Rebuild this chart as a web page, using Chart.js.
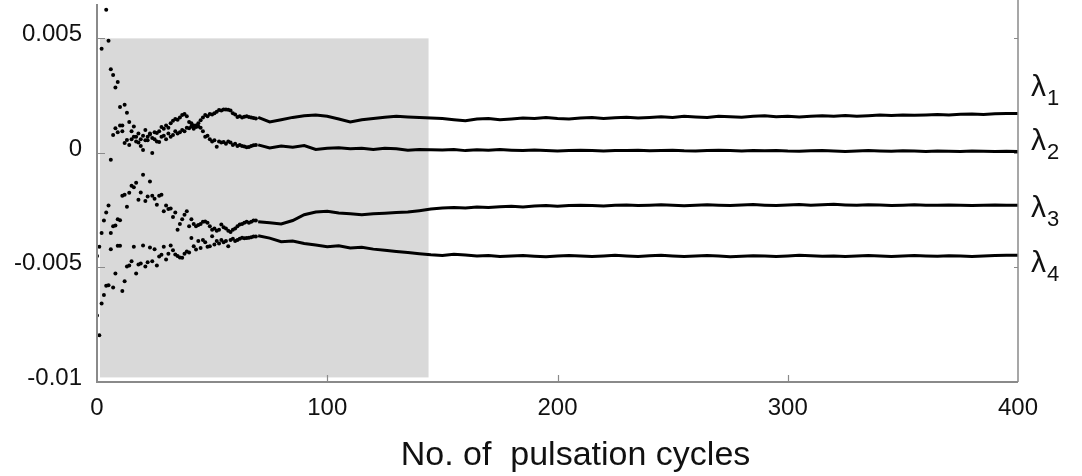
<!DOCTYPE html>
<html><head><meta charset="utf-8">
<script src="https://cdn.jsdelivr.net/npm/chart.js@4.4.1/dist/chart.umd.min.js"></script>
<style>html,body{margin:0;padding:0;background:#fff;}#wrap{width:1082px;height:476px;position:relative;}</style>
</head><body><div id="wrap"><canvas id="c" width="1082" height="476"></canvas></div>
<script>
// ---- data ----
const earlyCycles = [0,1,2,3,4,5,6,7,8,9,10,11,12,13,14,15,16,17,18,19,20,21,22,23,24,25,26,27,28,29,30,31,32,33,34,35,36,37,38,39,40,41,42,43,44,45,46,47,48,49,50,51,52,53,54,55,56,57,58,59,60,61,62,63,64,65,66,67,68,69];
const lambda1Early = [null,null,0.00455,null,0.00625,0.0049,0.00365,0.0034,0.00285,0.0031,
 0.002,0.0012,0.0021,0.00175,0.00135,0.00095,0.00115,0.0007,0.00085,0.0006,
 0.00075,0.001,0.00055,0.0008,0.00065,0.0009,0.00087,0.00048,0.0007,0.00075,
 0.0006,0.00085,0.0007,0.00078,0.00095,0.00085,0.0009,0.001,0.00095,0.0011,
 0.00108,0.00115,0.00105,0.0012,0.0013,0.00143,0.00155,0.00165,0.0016,0.0017,
 0.00168,0.00173,0.0018,0.00187,0.00185,0.0019,0.0019,0.00188,0.00185,0.00173,
 0.00168,0.00157,0.0016,0.00155,0.00158,0.0016,0.00157,0.00155,0.00152,0.0015];
const lambda2Early = [null,null,null,null,null,null,-0.0003,0.00078,0.00108,0.0009,
 0.0012,0.00095,0.00043,0.00056,0.00035,0.0006,0.0007,0.0005,0.00045,0.0003,
 0.00013,0.00055,0.0007,0.00085,0.0,0.0006,0.0005,0.00095,0.00113,0.00105,
 0.0012,0.0011,0.0013,0.0014,0.00148,0.00145,0.00155,0.00165,0.0017,0.0016,
 0.00135,0.0013,0.0012,0.00113,0.00115,0.0011,0.00095,0.0007,0.00075,0.0006,
 0.0005,0.00055,0.00027,0.0005,0.00045,0.00048,0.0004,0.0005,0.00045,0.00035,
 0.0004,0.0003,0.00035,0.0003,0.00028,0.00025,0.00026,0.0003,0.00033,0.00035];
const lambda3Early = [-0.0045,-0.0041,-0.0035,-0.00295,-0.0026,-0.0023,-0.0035,-0.0032,-0.00317,-0.0029,
 -0.00294,-0.00187,-0.00183,-0.00235,-0.00174,-0.00143,-0.0015,-0.0013,-0.00204,-0.00173,
 -0.00095,-0.0021,-0.0019,-0.00125,-0.00187,-0.002,-0.00226,-0.00187,-0.00183,-0.00255,
 -0.0023,-0.00245,-0.00243,-0.0028,-0.0026,-0.00335,-0.0031,-0.0029,-0.0027,-0.00255,
 -0.0032,-0.0029,-0.0031,-0.0032,-0.00315,-0.0031,-0.003,-0.00299,-0.00305,-0.0032,
 -0.00335,-0.0033,-0.0034,-0.00335,-0.00313,-0.00325,-0.0033,-0.0034,-0.00345,-0.00335,
 -0.0033,-0.0032,-0.00313,-0.0031,-0.00305,-0.003,-0.00305,-0.003,-0.00295,-0.00295];
const lambda4Early = [-0.0071,-0.00796,-0.00657,-0.0062,-0.0058,-0.00578,-0.0042,-0.00587,-0.00526,-0.00405,
 -0.00405,-0.00603,-0.0056,-0.00496,-0.00491,-0.00473,-0.0041,-0.00526,-0.00487,-0.00483,
 -0.00404,-0.00496,-0.00477,-0.00413,-0.00473,-0.0042,-0.00491,-0.00452,-0.00445,-0.0041,
 -0.00465,-0.0044,-0.00404,-0.00425,-0.00443,-0.0045,-0.00457,-0.00458,-0.0044,-0.0043,
 -0.00435,-0.00371,-0.00407,-0.00422,-0.00385,-0.00415,-0.0038,-0.0039,-0.0041,-0.00407,
 -0.00364,-0.004,-0.00385,-0.00395,-0.0038,-0.0039,-0.00385,-0.00407,-0.0038,-0.00375,
 -0.00385,-0.0038,-0.00375,-0.0037,-0.00372,-0.00371,-0.0037,-0.00368,-0.00365,-0.00365];

const lateCycles = [70,75,80,85,90,95,100,105,110,115,120,125,130,135,140,145,150,155,160,165,170,175,180,185,190,195,200,205,210,215,220,225,230,235,240,245,250,255,260,265,270,275,280,285,290,295,300,305,310,315,320,325,330,335,340,345,350,355,360,365,370,375,380,385,390,395,400];
const lambda1Late = [0.00155,0.00135,0.00145,0.00155,0.00162,0.00165,0.0016,0.00148,0.00135,0.00145,
 0.0015,0.00156,0.0016,0.00157,0.00155,0.00152,0.0015,0.00145,0.0014,0.00148,
 0.0015,0.00145,0.00148,0.00152,0.0015,0.00155,0.0015,0.00148,0.00152,0.00155,
 0.0015,0.00153,0.00156,0.00152,0.00155,0.00158,0.00155,0.0016,0.00157,0.00155,
 0.0016,0.00158,0.00156,0.0016,0.00162,0.00158,0.0016,0.00157,0.0016,0.00162,
 0.0016,0.00163,0.0016,0.00162,0.00165,0.00163,0.00166,0.00164,0.00166,0.00168,
 0.00166,0.00169,0.0017,0.00168,0.00171,0.00172,0.00172];
const lambda2Late = [0.00035,0.00022,0.0003,0.00025,0.00032,0.00015,0.0002,0.00022,0.00018,0.0002,
 0.00015,0.0002,0.00018,0.00012,0.00015,0.00014,0.00013,0.00015,0.0001,0.00014,
 0.00012,0.00015,0.00012,0.0001,0.00013,0.00011,0.00008,0.0001,0.00012,0.0001,
 0.00008,0.00011,0.0001,0.00012,0.00009,0.0001,0.00012,0.00009,0.00008,0.0001,
 0.00012,0.0001,0.00008,0.0001,0.00009,0.00011,0.00008,0.00007,0.00009,0.0001,
 0.00008,0.00006,0.00008,0.0001,0.00008,0.00007,0.00009,0.00008,0.00006,0.00008,
 0.00007,0.00006,0.00008,0.00007,0.00006,0.00007,0.00006];
const lambda3Late = [-0.003,-0.00305,-0.0031,-0.00295,-0.0027,-0.00258,-0.00255,-0.00262,-0.00266,-0.0027,
 -0.00266,-0.00263,-0.0026,-0.00258,-0.00252,-0.00245,-0.0024,-0.00238,-0.0024,-0.00236,
 -0.00238,-0.00235,-0.00233,-0.00236,-0.00232,-0.0023,-0.00233,-0.0023,-0.00228,-0.0023,
 -0.00232,-0.00229,-0.00227,-0.0023,-0.00228,-0.00226,-0.00229,-0.00231,-0.00228,-0.00226,
 -0.00228,-0.0023,-0.00227,-0.00225,-0.00228,-0.0023,-0.00227,-0.00225,-0.00228,-0.00226,
 -0.00224,-0.00227,-0.00229,-0.00226,-0.00227,-0.0023,-0.00228,-0.00226,-0.00228,-0.00229,
 -0.00227,-0.00228,-0.0023,-0.00228,-0.00227,-0.00229,-0.00228];
const lambda4Late = [-0.00362,-0.00372,-0.00388,-0.00385,-0.00395,-0.00402,-0.0041,-0.00405,-0.00415,-0.00412,
 -0.0042,-0.00425,-0.0043,-0.00435,-0.0044,-0.00445,-0.00448,-0.00442,-0.00446,-0.0045,
 -0.00448,-0.00452,-0.0045,-0.00448,-0.00451,-0.00453,-0.0045,-0.00448,-0.0045,-0.00452,
 -0.0045,-0.00447,-0.0045,-0.00452,-0.00449,-0.00447,-0.0045,-0.00452,-0.0045,-0.00448,
 -0.0045,-0.00453,-0.00451,-0.00449,-0.0045,-0.00452,-0.0045,-0.00447,-0.00449,-0.00451,
 -0.0045,-0.00452,-0.0045,-0.00448,-0.0045,-0.00452,-0.0045,-0.00448,-0.0045,-0.00451,
 -0.00449,-0.0045,-0.00452,-0.0045,-0.00448,-0.00447,-0.00447];

const xTickValues = [0,100,200,300,400];
const xTickLabels = ['0','100','200','300','400'];
const yTickValues = [-0.01,-0.005,0,0.005];
const yTickLabels = ['-0.01','-0.005','0','0.005'];
const seriesSymbols = ['λ','λ','λ','λ'];
const seriesSubscripts = ['1','2','3','4'];
const seriesLabelAt = [0.0025,0.00013,-0.0028,-0.0052];
const shadeCycles = [1.3,144];
const shadeValues = [-0.0098,0.005];
const xTitle = 'No. of  pulsation cycles';

// ---- build datasets ----
const FONT = '"Liberation Sans", Arial, Helvetica, sans-serif';
function pts(xs, ys){ const out=[]; xs.forEach((c,i)=>{ if(ys[i]!==null) out.push({x:c,y:ys[i]}); }); return out; }
const early = [lambda1Early,lambda2Early,lambda3Early,lambda4Early];
const late = [lambda1Late,lambda2Late,lambda3Late,lambda4Late];
const datasets = [];
early.forEach((s,i)=>datasets.push({label:'early'+i,data:pts(earlyCycles,s),showLine:false,pointRadius:2,pointBorderWidth:0,backgroundColor:'#000',borderColor:'#000'}));
late.forEach((s,i)=>datasets.push({label:'late'+i,data:pts(lateCycles,s),showLine:true,pointRadius:0,borderWidth:3,borderColor:'#000',tension:0}));

const decor = {
  id:'decor',
  beforeDatasetsDraw(chart){
    const {ctx, scales:{x,y}} = chart;
    ctx.save();
    ctx.fillStyle = '#d9d9d9';
    const x0 = x.getPixelForValue(shadeCycles[0]), x1 = x.getPixelForValue(shadeCycles[1]);
    const y0 = y.getPixelForValue(shadeValues[1]), y1 = y.getPixelForValue(shadeValues[0]);
    ctx.fillRect(x0, y0, x1-x0, y1-y0);
    ctx.restore();
  },
  afterDatasetsDraw(chart){
    const {ctx, chartArea:a, scales:{x,y}} = chart;
    ctx.save();
    ctx.strokeStyle = '#8a8a8a';
    ctx.lineWidth = 2;
    ctx.beginPath(); ctx.moveTo(a.left, a.top); ctx.lineTo(a.left, a.bottom); ctx.lineTo(a.right, a.bottom); ctx.stroke();
    ctx.lineWidth = 1.5;
    ctx.beginPath(); ctx.moveTo(a.right, 0); ctx.lineTo(a.right, a.bottom); ctx.stroke();
    ctx.lineWidth = 1.2;
    ctx.beginPath();
    y.ticks.forEach(t=>{
      const k = Math.round(t.value*1000);
      if (Math.abs(t.value*1000-k) > 1e-6) return;
      const py = Math.round(y.getPixelForValue(t.value)) + 0.5;
      const len = (k % 5 === 0) ? 8 : 4;
      ctx.moveTo(a.left, py); ctx.lineTo(a.left+len, py);
      ctx.moveTo(a.right, py); ctx.lineTo(a.right-4, py);
    });
    x.ticks.forEach(t=>{
      if (t.value <= x.min || t.value >= x.max) return;
      const px = Math.round(x.getPixelForValue(t.value)) + 0.5;
      ctx.moveTo(px, a.bottom); ctx.lineTo(px, a.bottom-7);
    });
    ctx.stroke();
    ctx.restore();
  },
  afterDraw(chart){
    const {ctx, chartArea:a, scales:{y}} = chart;
    ctx.save();
    ctx.fillStyle = '#111';
    ctx.textBaseline = 'alphabetic';
    seriesSymbols.forEach((s,i)=>{
      const by = y.getPixelForValue(seriesLabelAt[i]);
      const lx = a.right + 13;
      ctx.font = '30px ' + FONT;
      ctx.fillText(s, lx, by);
      const w = ctx.measureText(s).width;
      ctx.font = '22px ' + FONT;
      ctx.fillText(seriesSubscripts[i], lx + w + 1, by + 9);
    });
    // axis title
    ctx.font = '34px ' + FONT;
    ctx.textAlign = 'center';
    ctx.fillText(xTitle, (a.left + a.right) / 2 + 18, 465);
    ctx.restore();
  }
};

new Chart(document.getElementById('c'), {
  type:'scatter',
  data:{datasets},
  plugins:[decor],
  options:{
    responsive:false, animation:false, devicePixelRatio:1,
    layout:{padding:{left:0,right:64,top:3,bottom:0}},
    plugins:{legend:{display:false}, tooltip:{enabled:false}},
    scales:{
      x:{type:'linear', min:0, max:400,
         afterFit(s){ s.height = 94; s.paddingLeft = 0; s.paddingRight = 0; },
         grid:{display:false, drawTicks:false}, border:{display:false},
         ticks:{stepSize:100, autoSkip:false, maxRotation:0, padding:12, color:'#111', font:{family:FONT,size:24},
           callback(v){ const i = xTickValues.findIndex(t=>Math.abs(t-v)<1e-9); return i>=0 ? xTickLabels[i] : null; }},
         title:{display:false, text:xTitle}
      },
      y:{type:'linear', min:-0.01, max:0.0065,
         afterFit(s){ s.width = 97; s.paddingTop = 0; s.paddingBottom = 0; },
         grid:{display:false, drawTicks:false}, border:{display:false},
         ticks:{stepSize:0.001, autoSkip:false, padding:15, labelOffset:-4, color:'#111', font:{family:FONT,size:24},
           callback(v){ const i = yTickValues.findIndex(t=>Math.abs(t-v)<1e-9); return i>=0 ? yTickLabels[i] : null; }}
      }
    }
  }
});
</script></body></html>
